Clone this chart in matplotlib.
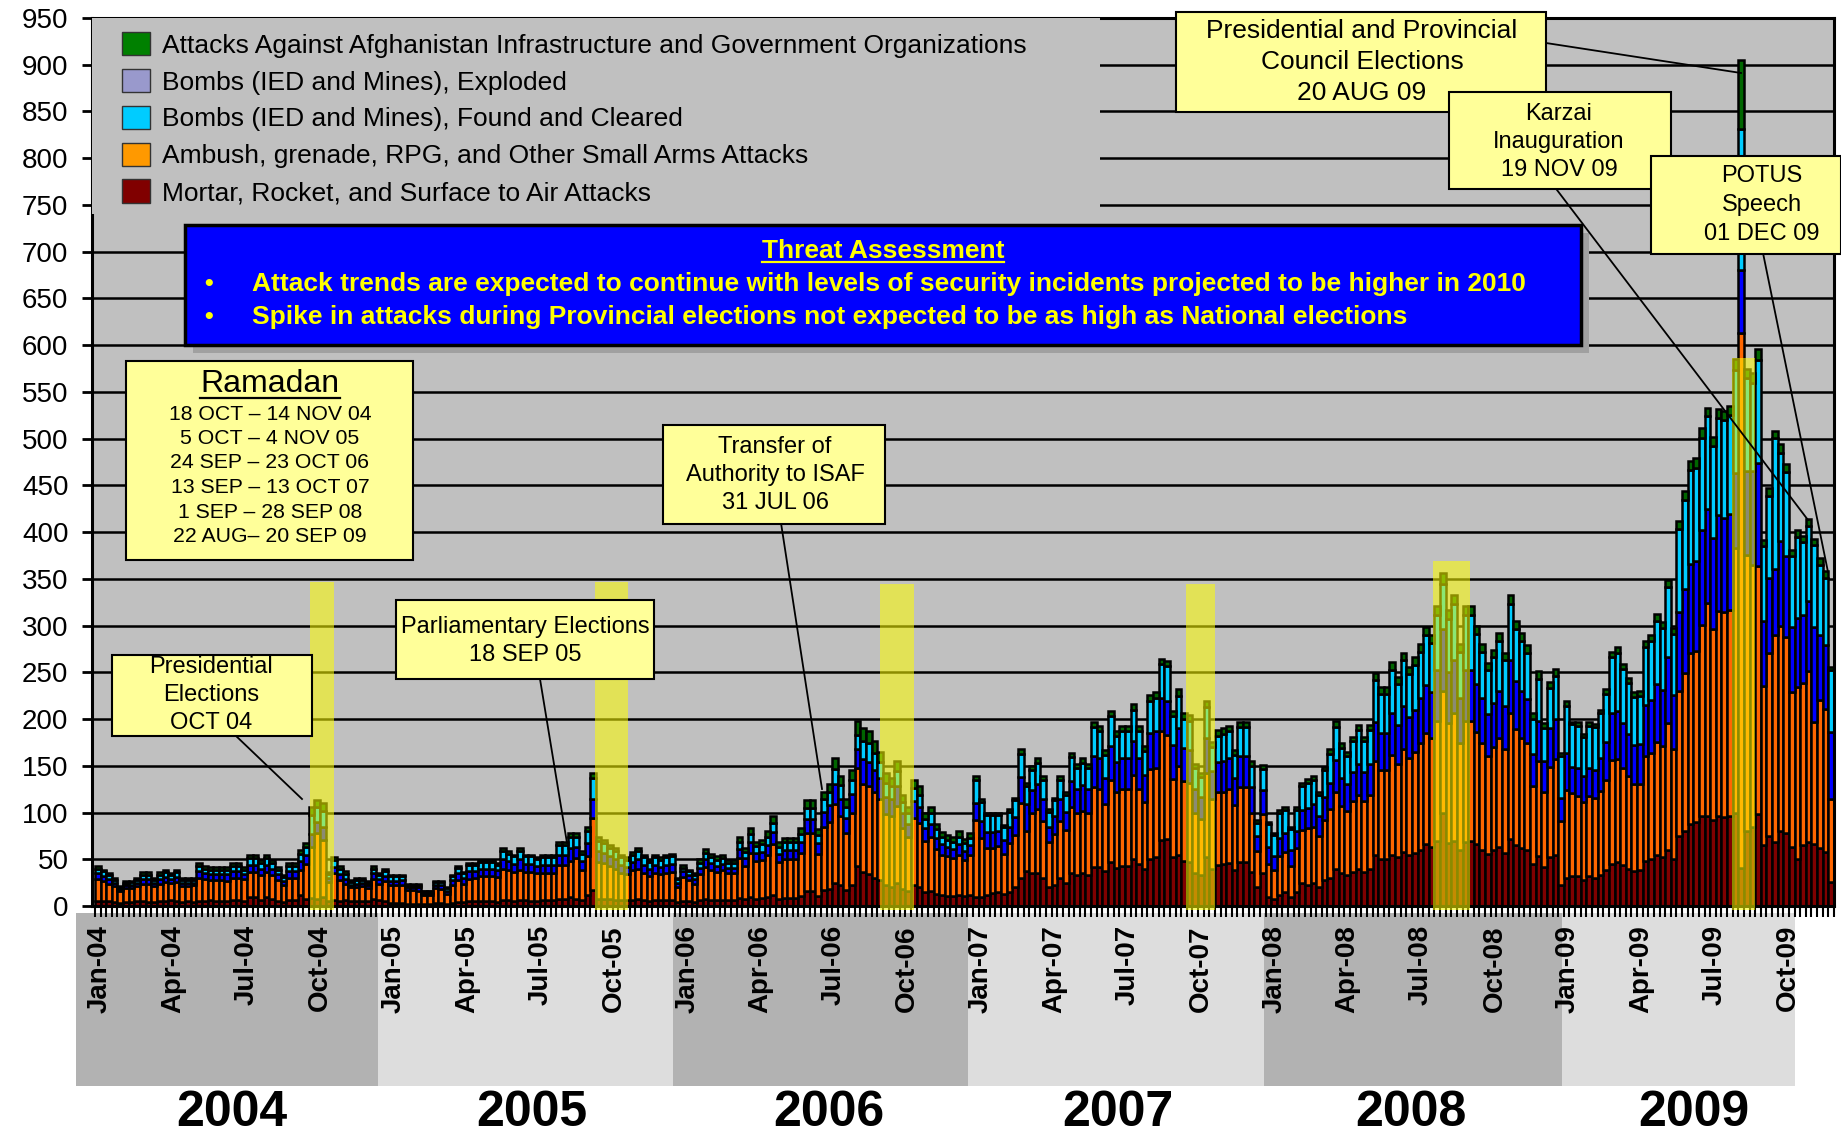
import numpy as np
import matplotlib
matplotlib.use("Agg")
import matplotlib.pyplot as plt
from matplotlib.patches import Rectangle, Patch
from matplotlib.lines import Line2D
from matplotlib.transforms import blended_transform_factory

# weekly incident counts, first week of Jan 2004 .. first week of Dec 2009
mortar_2004 = [5,5,5,4,3,4,4,5,5,4,4,5,5,6,5,4,5,4,5,5,6,5,5,5,6,6,5,10,10,6,10,8,5,4,6,6,12,8,9,8,10,5,6,5,6,5,5,5,5,8,6,5]
ambush_2004 = [24,22,19,17,13,15,15,16,19,20,17,19,21,19,21,17,16,18,25,24,22,23,23,22,24,24,24,26,26,27,26,25,23,19,24,24,27,37,54,70,61,21,29,23,18,15,15,16,14,21,18,22]
ied_exp_2004 = [6,5,5,4,2,3,4,4,5,5,4,5,5,4,5,4,4,3,7,6,6,6,6,7,7,7,5,8,8,7,8,7,6,4,7,7,9,10,14,12,13,4,7,6,5,3,4,4,3,6,5,5]
ied_found_2004 = [5,5,4,3,2,3,3,3,4,4,3,4,5,4,5,3,3,3,6,5,5,5,5,5,6,6,5,7,7,6,7,6,5,4,6,6,8,8,20,16,18,4,7,6,5,3,4,3,3,5,4,5]
infra_2004 = [3,2,2,2,1,2,1,2,3,3,2,3,3,2,3,2,2,2,3,3,3,3,3,3,3,3,3,4,4,3,4,3,3,2,3,3,4,4,9,7,8,2,3,3,3,2,2,2,2,3,2,3]

mortar_2005 = [3,3,3,2,2,2,2,2,3,3,2,3,4,4,5,5,5,5,5,4,6,6,5,6,6,5,5,6,6,6,8,8,10,8,6,12,17,8,7,7,6,6,6,6,7,6,5,6,6,6,6,4]
ambush_2005 = [19,19,20,15,15,14,10,10,16,15,11,20,24,20,24,25,27,27,27,27,34,32,31,33,30,31,30,29,29,29,36,36,38,43,33,41,77,39,39,36,34,29,28,32,33,29,27,29,28,29,30,16]
ied_exp_2005 = [5,5,5,3,3,4,2,2,4,4,3,5,7,6,8,7,8,8,8,7,10,10,9,11,9,9,8,9,9,9,11,11,14,12,9,14,20,12,11,10,10,9,8,9,10,9,8,9,8,9,9,5]
ied_found_2005 = [5,5,4,3,3,3,2,2,3,4,3,4,6,5,7,7,7,7,7,6,9,8,8,9,8,8,7,8,8,8,10,10,12,11,8,13,23,11,10,9,9,8,7,8,9,8,7,8,7,8,8,4]
infra_2005 = [1,1,1,1,1,1,0,0,1,1,1,1,2,1,2,2,2,2,2,2,3,3,2,3,2,2,2,3,3,3,3,3,4,4,3,4,5,4,4,3,3,3,3,3,3,3,2,3,3,3,3,1]

mortar_2006 = [5,5,4,6,7,6,6,6,6,6,9,7,10,8,9,10,12,8,9,9,9,11,16,16,11,17,18,25,22,17,23,43,36,34,30,28,22,20,25,18,16,22,20,15,16,13,12,11,11,12,11,12]
ambush_2006 = [26,23,20,28,35,33,30,32,29,29,42,36,47,40,40,45,54,39,41,41,41,46,62,62,45,67,72,84,74,61,77,105,95,94,92,87,76,76,82,65,58,72,69,55,58,48,43,42,40,43,38,43]
ied_exp_2006 = [6,5,5,7,8,7,7,7,6,6,10,8,11,9,9,10,13,9,10,10,10,11,15,15,11,17,18,22,19,16,20,20,26,26,24,22,19,18,21,16,14,18,17,13,14,12,11,10,10,11,10,10]
ied_found_2006 = [4,4,4,5,7,6,6,6,5,5,8,7,9,7,8,9,10,7,8,8,8,9,12,12,9,13,14,16,14,12,15,15,20,20,18,17,15,14,16,12,11,14,13,10,11,9,8,8,8,8,8,8]
infra_2006 = [3,2,2,4,4,4,4,4,3,3,5,4,6,5,5,6,7,5,5,5,5,6,8,8,6,8,9,11,10,8,10,15,13,13,12,11,10,9,11,8,7,9,9,7,7,6,5,5,5,6,5,5]

mortar_2007 = [10,10,12,14,15,13,15,20,30,37,35,35,30,20,22,30,25,35,33,35,33,42,42,37,47,41,43,43,50,45,40,50,52,71,72,52,55,48,47,35,33,52,40,44,45,46,38,47,47,36,20,35]
ambush_2007 = [82,63,50,48,49,43,52,56,80,43,64,69,61,48,55,61,56,71,66,67,66,85,83,72,88,81,82,82,90,80,71,97,96,116,111,84,95,86,85,64,60,90,74,78,77,79,70,80,80,64,39,63]
ied_exp_2007 = [18,18,17,17,16,15,17,19,28,29,25,26,23,17,19,23,20,28,26,27,26,34,33,28,36,32,33,33,37,33,29,38,39,35,36,36,40,35,35,26,24,38,30,32,33,33,29,34,34,27,16,26]
ied_found_2007 = [25,20,18,18,17,14,17,18,25,19,22,23,21,16,17,21,18,25,23,24,23,30,29,25,32,28,29,29,33,29,26,34,35,37,38,31,35,31,31,23,21,33,26,28,29,29,25,30,30,23,14,23]
infra_2007 = [4,3,3,3,3,2,3,3,5,4,4,5,4,3,3,4,3,5,4,5,4,6,6,5,6,5,6,6,6,6,5,7,7,5,5,6,7,6,6,4,4,6,5,6,6,6,5,6,6,5,3,4]

mortar_2008 = [10,8,12,15,10,15,25,22,25,20,28,30,40,35,33,36,40,36,40,55,50,50,55,52,58,55,57,60,66,63,70,100,67,70,60,68,70,66,60,56,60,63,57,72,65,62,60,45,53,42,52,55]
ambush_2008 = [35,30,41,43,33,47,56,61,60,55,64,74,82,72,69,76,79,76,79,100,95,95,107,100,110,103,108,114,119,117,128,130,129,136,114,130,128,120,114,105,110,117,111,134,124,118,114,83,102,80,97,102]
ied_exp_2008 = [18,16,20,20,17,18,22,22,24,21,25,28,34,30,28,31,33,31,33,42,40,40,44,42,46,44,45,48,51,49,55,66,54,57,48,55,55,51,48,44,47,50,46,57,52,50,47,35,43,33,41,43]
ied_found_2008 = [25,22,27,25,22,23,25,27,26,23,28,31,36,32,30,33,36,33,36,45,42,42,47,44,49,46,48,50,54,52,58,48,57,60,50,58,58,54,50,47,49,53,49,60,55,53,50,37,45,35,43,46]
infra_2008 = [2,2,3,3,2,3,4,4,4,3,4,5,6,5,5,5,6,5,6,7,7,7,8,7,8,8,8,8,9,9,10,12,10,10,8,10,10,9,8,8,8,9,8,10,9,9,8,6,8,6,7,8]

mortar_2009 = [22,30,32,32,28,32,30,33,38,45,47,44,40,37,38,48,50,55,52,60,50,75,80,88,90,96,96,92,96,95,96,100,41,80,85,98,65,75,69,80,78,63,50,65,68,66,62,58,26]
ambush_2009 = [69,94,89,86,83,86,86,90,97,111,110,104,99,93,93,112,114,120,119,136,118,155,169,183,183,205,228,204,220,220,221,283,572,295,280,266,170,196,221,220,210,166,184,174,183,131,158,153,89]
ied_exp_2009 = [25,40,28,30,28,30,30,35,40,50,52,48,45,42,42,55,56,62,60,70,58,85,90,95,96,101,101,98,102,100,102,80,67,90,100,110,70,80,71,90,86,70,74,72,75,101,70,68,71]
ied_found_2009 = [45,50,46,45,42,45,45,48,52,60,62,58,55,52,52,62,64,68,66,75,65,88,95,100,100,99,99,98,104,105,106,110,151,100,95,110,80,88,140,95,90,75,87,78,80,88,75,72,67]
infra_2009 = [3,5,2,4,3,4,4,4,5,6,6,5,5,5,5,6,6,7,7,8,6,9,10,10,10,10,9,10,10,10,10,12,74,10,10,12,7,8,7,9,9,7,7,7,8,7,7,7,3]

series_labels = [
    "Attacks Against Afghanistan Infrastructure and Government Organizations",
    "Bombs (IED and Mines), Exploded",
    "Bombs (IED and Mines), Found and Cleared",
    "Ambush, grenade, RPG, and Other Small Arms Attacks",
    "Mortar, Rocket, and Surface to Air Attacks",
]
years = ["2004", "2005", "2006", "2007", "2008", "2009"]
quarters = ["Jan", "Apr", "Jul", "Oct"]

ramadan_lines = ["18 OCT \u2013 14 NOV 04", "5 OCT \u2013 4 NOV 05", "24 SEP \u2013 23 OCT 06",
                 "13 SEP \u2013 13 OCT 07", "1 SEP \u2013 28 SEP 08", "22 AUG\u2013 20 SEP 09"]
# Ramadan highlight spans (week positions) and their heights
ramadan_x0 = [37.7, 88.3, 139.0, 193.4, 237.2, 290.4]
ramadan_x1 = [42.0, 94.2, 145.1, 198.6, 243.9, 294.5]
ramadan_top = [347, 347, 345, 345, 369, 586]

mortar = np.array(mortar_2004 + mortar_2005 + mortar_2006 + mortar_2007 + mortar_2008 + mortar_2009)
ambush = np.array(ambush_2004 + ambush_2005 + ambush_2006 + ambush_2007 + ambush_2008 + ambush_2009)
ied_exp = np.array(ied_exp_2004 + ied_exp_2005 + ied_exp_2006 + ied_exp_2007 + ied_exp_2008 + ied_exp_2009)
ied_found = np.array(ied_found_2004 + ied_found_2005 + ied_found_2006 + ied_found_2007 + ied_found_2008 + ied_found_2009)
infra = np.array(infra_2004 + infra_2005 + infra_2006 + infra_2007 + infra_2008 + infra_2009)

plt.rcParams["font.family"] = ["Liberation Sans", "DejaVu Sans"]

W, H = 1841, 1135
fig = plt.figure(figsize=(W / 100, H / 100), dpi=100)
fig.patch.set_facecolor("white")
ax = fig.add_axes([92 / W, 1 - 906 / H, (1834 - 92) / W, (906 - 18) / H])
ax.set_facecolor("#C0C0C0")

n = len(mortar)
x = np.arange(n)
bottom = np.zeros(n)
stack = [(mortar, "#800000"), (ambush, "#FF6600"), (ied_exp, "#0000FF"),
         (ied_found, "#00CCFF"), (infra, "#006600")]
for vals, col in stack:
    ax.bar(x, vals, width=1.0, bottom=bottom, color=col, edgecolor="black",
           linewidth=1.8, zorder=2)
    bottom = bottom + vals

ax.set_xlim(-1.03, 308.4)
ax.set_ylim(0, 950)

# grid
ax.set_axisbelow(True)
ax.yaxis.grid(True, color="black", linewidth=1.8)
for s in ax.spines.values():
    s.set_color("black")
    s.set_linewidth(2.2)

# ramadan highlights
for x0, x1, top in zip(ramadan_x0, ramadan_x1, ramadan_top):
    ax.add_patch(Rectangle((x0, -4), x1 - x0, top + 4, facecolor="#FFFF00", alpha=0.55,
                           edgecolor="none", zorder=3, clip_on=False))

# y axis
ax.set_yticks(np.arange(0, 951, 50))
ax.tick_params(axis="y", labelsize=20, length=7, width=2, pad=10, colors="black")

# x axis: quarterly labels + weekly tick marks
qpos = [k * 13.04 + 0.4 for k in range(24)]
qlab = [f"{q}-{y[2:]}" for y in years for q in quarters]
ax.set_xticks(qpos, qlab)
ax.tick_params(axis="x", which="major", length=0, pad=13.7, labelsize=20, labelrotation=90)
for t in ax.get_xticklabels():
    t.set_fontweight("bold")
ax.set_xticks(np.arange(-0.5, n, 1), minor=True)
ax.tick_params(axis="x", which="minor", length=8, width=1.5, color="black", direction="out")

# legend with its own grey background
ax.add_patch(Rectangle((0, 0.779), 0.5786, 0.221, transform=ax.transAxes,
                       facecolor="#C0C0C0", edgecolor="none", zorder=3.5))
leg_colors = ["#008000", "#9999CC", "#00CCFF", "#FF9900", "#800000"]
handles = [Patch(facecolor=c, edgecolor="#333333", linewidth=1) for c in leg_colors]
leg = ax.legend(handles, series_labels, loc="upper left", bbox_to_anchor=(0.0172, 0.9845),
                frameon=False, fontsize=19, handlelength=1.06, handleheight=1.0,
                handletextpad=0.45, labelspacing=0.42, borderpad=0, borderaxespad=0)
leg.set_zorder(4)

# year bands under the axis
trans = blended_transform_factory(ax.transData, fig.transFigure)
band_edges = [-3.87, 49.77, 102.2, 154.7, 207.2, 260.2, 301.6]
band_cols = ["#B2B2B2", "#DDDDDD"] * 3
year_x = [23.8, 77.1, 129.9, 181.2, 233.4, 283.6]
for k, yr in enumerate(years):
    fig.add_artist(Rectangle((band_edges[k], 1 - 1086 / H), band_edges[k + 1] - band_edges[k],
                             (1086 - 913) / H, transform=trans, facecolor=band_cols[k],
                             edgecolor="none", zorder=-1))
    fig.text(year_x[k], 1 - 1113 / H, yr, transform=trans, ha="center", va="center",
             fontsize=36, fontweight="bold")


def F(px, py):
    return px / W, 1 - py / H


def box(x0, y0, x1, y1, face="#FFFF99", z=6, lw=1.5):
    fig.add_artist(Rectangle(F(x0, y1), (x1 - x0) / W, (y1 - y0) / H, transform=fig.transFigure,
                             facecolor=face, edgecolor="black", linewidth=lw, zorder=z))


def leader(x0, y0, x1, y1):
    fig.add_artist(Line2D([x0 / W, x1 / W], [1 - y0 / H, 1 - y1 / H], transform=fig.transFigure,
                          color="black", linewidth=1.3, zorder=5))


def note(x0, y0, x1, y1, text, cx, cy, fs=17, z=6, ls=1.35):
    box(x0, y0, x1, y1, z=z)
    fig.text(*F(cx, cy), text, ha="center", va="center", fontsize=fs, linespacing=ls,
             color="black", zorder=z + 0.5)


# threat assessment box
fig.add_artist(Rectangle(F(193, 353), (1581 - 185) / W, (345 - 225) / H,
                         transform=fig.transFigure, facecolor="#A0A0A0", edgecolor="none", zorder=5))
box(185, 225, 1581, 345, face="#0000FF", z=6, lw=2.5)
title = fig.text(*F(883, 251), "Threat Assessment", ha="center", va="center", fontsize=19,
                 fontweight="bold", color="#FFFF00", zorder=7)
bullets = ["Attack trends are expected to continue with levels of security incidents projected to be higher in 2010",
           "Spike in attacks during Provincial elections not expected to be as high as National elections"]
for by, btxt in zip([284, 317], bullets):
    fig.text(*F(209, by), "\u2022", ha="center", va="center", fontsize=18, fontweight="bold",
             color="#FFFF00", zorder=7)
    fig.text(*F(252, by), btxt, ha="left", va="center", fontsize=19, fontweight="bold",
             color="#FFFF00", zorder=7)

# ramadan box
box(125.6, 360.5, 413, 560, z=6)
ram = fig.text(*F(270, 384), "Ramadan", ha="center", va="center", fontsize=23, zorder=7)
for k, line in enumerate(ramadan_lines):
    fig.text(*F(270, 414 + k * 24.5), line, ha="center", va="center", fontsize=15.3, zorder=7)

# event call-outs
leader(235, 735, 302, 799)
note(111.5, 655, 312, 736, "Presidential\nElections\nOCT 04", 211, 695)
leader(540, 679, 567, 843)
note(395.6, 600, 654, 678.6, "Parliamentary Elections\n18 SEP 05", 525, 641)
leader(781, 523, 822, 789)
note(663, 425, 885, 523.6, "Transfer of\nAuthority to ISAF\n31 JUL 06", 775, 475)
leader(1546, 43, 1741, 73)
note(1176, 11.7, 1546, 111.5, "Presidential and Provincial\nCouncil Elections\n20 AUG 09", 1362, 62, fs=19, z=6)
leader(1557, 190, 1808, 520)
note(1449, 91.6, 1671, 189, "Karzai\nInauguration\n19 NOV 09", 1559, 142, z=8)
leader(1763, 253, 1828, 572)
note(1651, 156, 1841, 253.6, "POTUS\nSpeech\n01 DEC 09", 1762, 205, z=10, ls=1.4)

# underlines
fig.canvas.draw()
r = fig.canvas.get_renderer()
for t, c in [(title, "#FFFF00"), (ram, "black")]:
    bb = t.get_window_extent(r)
    fig.add_artist(Line2D([bb.x0 / W, bb.x1 / W], [(bb.y0 + 1) / H, (bb.y0 + 1) / H],
                          transform=fig.transFigure, color=c, linewidth=1.6, zorder=t.get_zorder()))

fig.savefig("out.png", dpi=100)
